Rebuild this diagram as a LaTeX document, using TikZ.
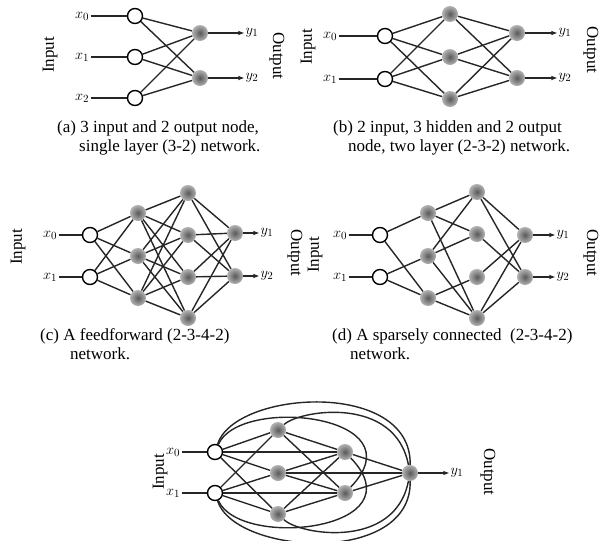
\documentclass[tikz,border=0pt]{standalone}
\usepackage{fontspec}
\setmainfont{Liberation Serif}
\usetikzlibrary{arrows.meta,backgrounds}
\begin{document}
\begin{tikzpicture}[x=1pt,y=-1pt,
  inp/.style={circle, draw, line width=1.4pt, fill=white, minimum size=15pt, inner sep=0pt},
  hid/.style={circle, minimum size=16pt, inner sep=0pt, inner color=gray!70!black, outer color=gray!60},
  lbl/.style={inner sep=1.5pt, font=\fontsize{15}{17}\selectfont},
  captxt/.style={anchor=west, inner sep=0pt, font=\fontsize{17}{19}\selectfont},
  side/.style={inner sep=0pt, font=\fontsize{17}{19}\selectfont},
  conn/.style={line width=1.4pt, black!85},
  arr/.style={conn, -{Stealth[length=6pt,width=4.5pt]}}]
\useasboundingbox (0,0) rectangle (600,541);

% ---------------- (a) ----------------
\foreach \n/\y in {0/16,1/57,2/98} {
  \node[inp] (a-i\n) at (135,\y) {};
  \node[lbl] (a-x\n) at (82,\y) {$x_\n$};
}
\node[hid] (a-o1) at (200,33) {};
\node[hid] (a-o2) at (200,78) {};
\node[lbl] (a-y1) at (252,33) {$y_1$};
\node[lbl] (a-y2) at (252,78) {$y_2$};
\node[side, rotate=90] (a-in) at (50,55) {Input};
\node[side, rotate=-90] (a-out) at (277,56) {Output};
\node[captxt] (a-c1) at (57,128) {(a) 3 input and 2 output node,};
\node[captxt] (a-c2) at (79,147) {single layer (3-2) network.};
\begin{scope}[on background layer]
  \foreach \i in {0,1,2} {
    \draw[conn] (a-x\i) -- (a-i\i);
    \foreach \o in {1,2} \draw[conn] (a-i\i) -- (a-o\o);
  }
\end{scope}
\draw[arr] (a-o1) -- (a-y1);
\draw[arr] (a-o2) -- (a-y2);

% ---------------- (b) ----------------
\foreach \n/\y in {0/36,1/79} {
  \node[inp] (b-i\n) at (385,\y) {};
  \node[lbl] (b-x\n) at (330,\y) {$x_\n$};
}
\foreach \n/\y in {0/14,1/57,2/99} \node[hid] (b-h\n) at (450,\y) {};
\node[hid] (b-o1) at (517,33) {};
\node[hid] (b-o2) at (517,78) {};
\node[lbl] (b-y1) at (565,33) {$y_1$};
\node[lbl] (b-y2) at (565,78) {$y_2$};
\node[side, rotate=90] (b-in) at (308,47) {Input};
\node[side, rotate=-90] (b-out) at (591,50) {Output};
\node[captxt] (b-c1) at (333,128) {(b) 2 input, 3 hidden and 2 output};
\node[captxt] (b-c2) at (348,147) {node, two layer (2-3-2) network.};
\begin{scope}[on background layer]
  \foreach \i in {0,1} {
    \draw[conn] (b-x\i) -- (b-i\i);
    \foreach \h in {0,1,2} \draw[conn] (b-i\i) -- (b-h\h);
  }
  \foreach \h in {0,1,2} \foreach \o in {1,2} \draw[conn] (b-h\h) -- (b-o\o);
\end{scope}
\draw[arr] (b-o1) -- (b-y1);
\draw[arr] (b-o2) -- (b-y2);

% ---------------- (c) ----------------
\foreach \n/\y in {0/235,1/277} {
  \node[inp] (c-i\n) at (90,\y) {};
  \node[lbl] (c-x\n) at (50,\y) {$x_\n$};
}
\foreach \n/\y in {0/213,1/256,2/298} \node[hid] (c-h\n) at (138,\y) {};
\foreach \n/\y in {0/193,1/235,2/277,3/318} \node[hid] (c-g\n) at (188,\y) {};
\node[hid] (c-o1) at (235,233) {};
\node[hid] (c-o2) at (235,276) {};
\node[lbl] (c-y1) at (267,233) {$y_1$};
\node[lbl] (c-y2) at (267,276) {$y_2$};
\node[side, rotate=90] (c-in) at (18,247) {Input};
\node[side, rotate=-90] (c-out) at (295,253) {Output};
\node[captxt] (c-c1) at (40,336) {(c) A feedforward (2-3-4-2)};
\node[captxt] (c-c2) at (70,354) {network.};
\begin{scope}[on background layer]
  \foreach \i in {0,1} {
    \draw[conn] (c-x\i) -- (c-i\i);
    \foreach \h in {0,1,2} \draw[conn] (c-i\i) -- (c-h\h);
  }
  \foreach \h in {0,1,2} \foreach \g in {0,1,2,3} \draw[conn] (c-h\h) -- (c-g\g);
  \foreach \g in {0,1,2,3} \foreach \o in {1,2} \draw[conn] (c-g\g) -- (c-o\o);
\end{scope}
\draw[arr] (c-o1) -- (c-y1);
\draw[arr] (c-o2) -- (c-y2);

% ---------------- (d) ----------------
\foreach \n/\y in {0/235,1/277} {
  \node[inp] (d-i\n) at (380,\y) {};
  \node[lbl] (d-x\n) at (340,\y) {$x_\n$};
}
\foreach \n/\y in {0/213,1/256,2/298} \node[hid] (d-h\n) at (428,\y) {};
\foreach \n/\y in {0/192,1/234,2/277,3/318} \node[hid] (d-g\n) at (477,\y) {};
\node[hid] (d-o1) at (525,235) {};
\node[hid] (d-o2) at (525,277) {};
\node[lbl] (d-y1) at (563,235) {$y_1$};
\node[lbl] (d-y2) at (563,277) {$y_2$};
\node[side, rotate=90] (d-in) at (315,255) {Input};
\node[side, rotate=-90] (d-out) at (591,253) {Output};
\node[captxt] (d-c1) at (332,336) {(d) A sparsely connected\ \ (2-3-4-2)};
\node[captxt] (d-c2) at (350,354) {network.};
\begin{scope}[on background layer]
  \foreach \i in {0,1} \draw[conn] (d-x\i) -- (d-i\i);
  \foreach \a/\b in {i0/h0, i0/h2, i1/h1, i1/h2,
                     h0/g0, h0/g1, h0/g3, h1/g0, h1/g1, h1/g3, h2/g2, h2/g3,
                     g0/o1, g0/o2, g1/o2, g2/o1, g3/o1, g3/o2}
    \draw[conn] (d-\a) -- (d-\b);
\end{scope}
\draw[arr] (d-o1) -- (d-y1);
\draw[arr] (d-o2) -- (d-y2);

% ---------------- (e) ----------------
\foreach \n/\y in {0/452,1/493} {
  \node[inp] (e-i\n) at (215,\y) {};
  \node[lbl] (e-x\n) at (173,\y) {$x_\n$};
}
\foreach \n/\y in {0/430,1/473,2/514} \node[hid] (e-h\n) at (278,\y) {};
\node[hid] (e-g0) at (345,452) {};
\node[hid] (e-g1) at (345,493) {};
\node[hid] (e-o) at (410,473) {};
\node[lbl] (e-y1) at (457,473) {$y_1$};
\node[side, rotate=90] (e-in) at (160,472) {Input};
\node[side, rotate=-90] (e-out) at (488,472) {Output};
\begin{scope}[on background layer]
  \foreach \i in {0,1} {
    \draw[conn] (e-x\i) -- (e-i\i);
    \foreach \h in {0,1,2} \draw[conn] (e-i\i) -- (e-h\h);
  }
  \draw[conn] (e-i0) -- (e-g0);
  \draw[conn] (e-i1) -- (e-g1);
  \foreach \h in {0,1,2} \foreach \g in {0,1} \draw[conn] (e-h\h) -- (e-g\g);
  \draw[conn] (e-h1) -- (e-o);
  \draw[conn] (e-g0) -- (e-o);
  \draw[conn] (e-g1) -- (e-o);
  % curved skip connections
  \draw[conn] (e-i0) .. controls (235,390) and (412,379) .. (e-o);
  \draw[conn] (e-i1) .. controls (235,555) and (412,566) .. (e-o);
  \draw[conn] (e-h0) .. controls (300,410) and (395,395) .. (e-o);
  \draw[conn] (e-h2) .. controls (300,535) and (395,550) .. (e-o);
  \draw[conn] (e-i0) .. controls (240,395) and (420,415) .. (e-g1);
  \draw[conn] (e-i1) .. controls (240,550) and (420,530) .. (e-g0);
\end{scope}
\draw[arr] (e-o) -- (e-y1);
\end{tikzpicture}
\end{document}
